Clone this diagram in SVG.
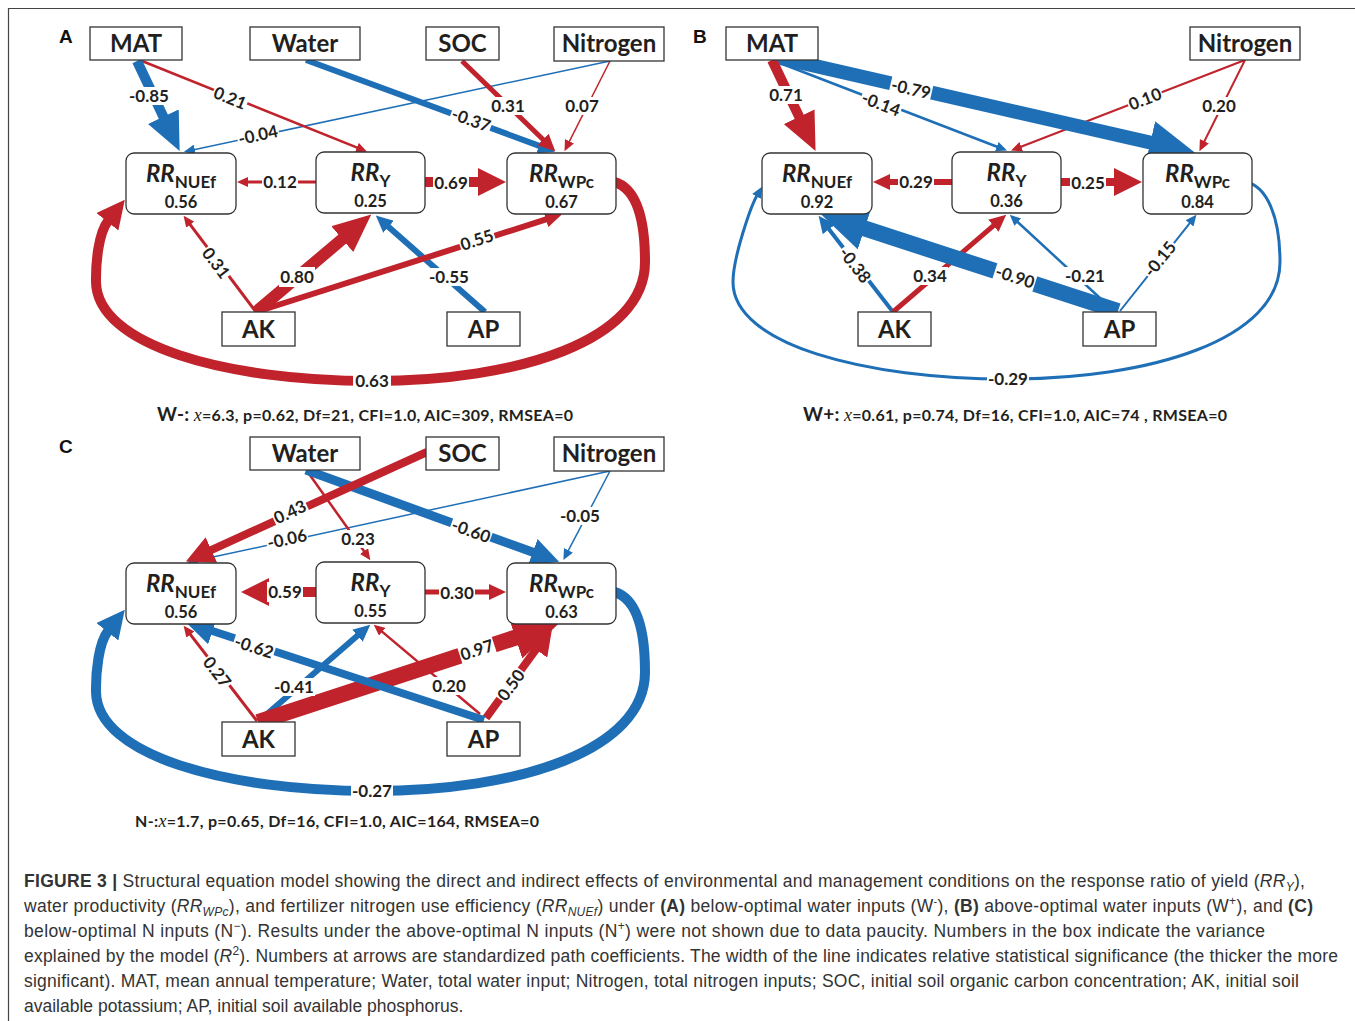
<svg xmlns="http://www.w3.org/2000/svg" width="1355" height="1021" viewBox="0 0 1355 1021">
<style>
.box{fill:#fff;stroke:#333;stroke-width:1.3}
.nt{font-family:Lato,"Liberation Sans",sans-serif;font-weight:700;font-size:24px;fill:#231f20;text-anchor:middle}
.rt{font-family:Lato,"Liberation Sans",sans-serif;font-weight:700;fill:#231f20;text-anchor:middle}
.rr{font-size:24px;font-style:italic}
.sub{font-size:17px;font-style:normal}
.val{font-family:Lato,"Liberation Sans",sans-serif;font-weight:700;font-size:16.5px;fill:#231f20;text-anchor:middle}
.r{stroke:#c0232c;fill:none}
.b{stroke:#1f6fb7;fill:none}
.lb{fill:#fff}
.el{font-family:Lato,"Liberation Sans",sans-serif;font-weight:700;font-size:17px;fill:#231f20;text-anchor:middle}
.pl{font-family:"Liberation Sans",Arial,sans-serif;font-weight:700;font-size:19px;fill:#111}
.fit{font-family:Lato,"Liberation Sans",sans-serif;font-weight:700;font-size:16px;fill:#231f20}
.chi{font-family:"Liberation Serif",serif;font-style:italic;font-weight:400;font-size:18px}
.cap{font-family:"Liberation Sans",Arial,sans-serif;font-size:17.5px;fill:#333}
.frame{stroke:#444;stroke-width:1.2;fill:none}
</style>
<defs>
<marker id="r-s" viewBox="0 0 11 10" refX="1" refY="5" markerWidth="11" markerHeight="10" markerUnits="userSpaceOnUse" orient="auto"><path d="M0,0L11,5L0,10z" fill="#c0232c"/></marker>
<marker id="r-m" viewBox="0 0 17 16" refX="1" refY="8" markerWidth="17" markerHeight="16" markerUnits="userSpaceOnUse" orient="auto"><path d="M0,0L17,8L0,16z" fill="#c0232c"/></marker>
<marker id="r-l" viewBox="0 0 28 28" refX="1" refY="14" markerWidth="28" markerHeight="28" markerUnits="userSpaceOnUse" orient="auto"><path d="M0,0L28,14L0,28z" fill="#c0232c"/></marker>
<marker id="r-xl" viewBox="0 0 38 34" refX="1" refY="17" markerWidth="38" markerHeight="34" markerUnits="userSpaceOnUse" orient="auto"><path d="M0,0L38,17L0,34z" fill="#c0232c"/></marker>
<marker id="r-xxl" viewBox="0 0 46 44" refX="1" refY="22" markerWidth="46" markerHeight="44" markerUnits="userSpaceOnUse" orient="auto"><path d="M0,0L46,22L0,44z" fill="#c0232c"/></marker>
<marker id="b-s" viewBox="0 0 11 10" refX="1" refY="5" markerWidth="11" markerHeight="10" markerUnits="userSpaceOnUse" orient="auto"><path d="M0,0L11,5L0,10z" fill="#1f6fb7"/></marker>
<marker id="b-m" viewBox="0 0 17 16" refX="1" refY="8" markerWidth="17" markerHeight="16" markerUnits="userSpaceOnUse" orient="auto"><path d="M0,0L17,8L0,16z" fill="#1f6fb7"/></marker>
<marker id="b-l" viewBox="0 0 28 28" refX="1" refY="14" markerWidth="28" markerHeight="28" markerUnits="userSpaceOnUse" orient="auto"><path d="M0,0L28,14L0,28z" fill="#1f6fb7"/></marker>
<marker id="b-xl" viewBox="0 0 38 34" refX="1" refY="17" markerWidth="38" markerHeight="34" markerUnits="userSpaceOnUse" orient="auto"><path d="M0,0L38,17L0,34z" fill="#1f6fb7"/></marker>
<marker id="b-xxl" viewBox="0 0 46 44" refX="1" refY="22" markerWidth="46" markerHeight="44" markerUnits="userSpaceOnUse" orient="auto"><path d="M0,0L46,22L0,44z" fill="#1f6fb7"/></marker>
</defs>

<rect width="1355" height="1021" fill="#fff"/>
<path class="frame" d="M8.5,1021V8.5H1355"/>

<text class="pl" x="59" y="43">A</text>
<text class="pl" x="693" y="43">B</text>
<text class="pl" x="59" y="453">C</text>

<g id="connectors">
<!-- Panel A -->
<path class="r" stroke-width="1.5" d="M610,61L569,142.2" marker-end="url(#r-s)"/>
<path class="b" stroke-width="1.5" d="M610,61L193.8,149.7" marker-end="url(#b-s)"/>
<path class="r" stroke-width="2.5" d="M142,61L357.8,147.9" marker-end="url(#r-s)"/>
<path class="b" stroke-width="6" d="M306,60L540,146.1" marker-end="url(#b-m)"/>
<path class="r" stroke-width="5" d="M462,61L543.8,140.2" marker-end="url(#r-m)"/>
<path class="b" stroke-width="10" d="M137,61L163.8,117.6" marker-end="url(#b-xl)"/>
<path class="r" stroke-width="3" d="M316,182L247,182" marker-end="url(#r-s)"/>
<path class="r" stroke-width="10" d="M425,182L479,182" marker-end="url(#r-l)"/>
<path class="r" stroke-width="3" d="M256,312L189.6,223.8" marker-end="url(#r-s)"/>
<path class="b" stroke-width="6" d="M485,312L387.8,226.2" marker-end="url(#b-m)"/>
<path class="r" stroke-width="6" d="M256,312L546.8,219.2" marker-end="url(#r-m)"/>
<path class="r" stroke-width="12" d="M256,312L343,238.5" marker-end="url(#r-xl)"/>
<path class="r" stroke-width="10" d="M610,181C637,185 645,220 645,262C645,340 520,381 372,381C225,381 97,345 96,282C95.7,262 98.7,232.7 108,221" marker-end="url(#r-l)"/>

<!-- Panel B -->
<path class="r" stroke-width="2" d="M1245,60L1020.3,147" marker-end="url(#r-s)"/>
<path class="r" stroke-width="2" d="M1245,60L1203.9,142.2" marker-end="url(#r-s)"/>
<path class="b" stroke-width="2.5" d="M772,60L997.7,147" marker-end="url(#b-s)"/>
<path class="b" stroke-width="14" d="M776,57L1151.2,142.8" marker-end="url(#b-xxl)"/>
<path class="r" stroke-width="10" d="M772,60L799.6,117.7" marker-end="url(#r-xl)"/>
<path class="r" stroke-width="6" d="M952,182L889,182" marker-end="url(#r-m)"/>
<path class="r" stroke-width="8" d="M1061,182L1115,182" marker-end="url(#r-l)"/>
<path class="b" stroke-width="4" d="M893,312L828.4,228.5" marker-end="url(#b-m)"/>
<path class="r" stroke-width="5" d="M893,312L994.1,225.1" marker-end="url(#r-m)"/>
<path class="b" stroke-width="2.5" d="M1114,311L1017.1,221.5" marker-end="url(#b-s)"/>
<path class="b" stroke-width="2" d="M1120,311L1190.2,222.6" marker-end="url(#b-s)"/>
<path class="b" stroke-width="16" d="M1118,311L863.7,228.2" marker-end="url(#b-xxl)"/>
<path class="b" stroke-width="3" d="M1246,182C1266,186 1280,215 1280,262C1280,340 1150,379 1008,379C866,379 733,345 733,282C733,257 751,206 757,195.5" marker-end="url(#b-s)"/>

<!-- Panel C -->
<path class="b" stroke-width="1.5" d="M610,471L196.7,560.6" marker-end="url(#b-s)"/>
<path class="b" stroke-width="1.5" d="M610,471L568,551.2" marker-end="url(#b-s)"/>
<path class="r" stroke-width="2.5" d="M307,471L364.6,552" marker-end="url(#r-s)"/>
<path class="b" stroke-width="9" d="M306,470L533.7,552.5" marker-end="url(#b-l)"/>
<path class="r" stroke-width="8" d="M427,452L210.5,550.3" marker-end="url(#r-l)"/>
<path class="r" stroke-width="10" d="M316,592L268,592" marker-end="url(#r-l)"/>
<path class="r" stroke-width="5" d="M425,592L490,592" marker-end="url(#r-m)"/>
<path class="r" stroke-width="3" d="M257,721L189.7,633.7" marker-end="url(#r-s)"/>
<path class="r" stroke-width="2.5" d="M480,714L381.4,631.1" marker-end="url(#r-s)"/>
<path class="b" stroke-width="6" d="M259,721L358.2,635.1" marker-end="url(#b-m)"/>
<path class="r" stroke-width="16" d="M258,722L516.3,637.3" marker-end="url(#r-xxl)"/>
<path class="r" stroke-width="8" d="M486,718L536.5,648.6" marker-end="url(#r-l)"/>
<path class="b" stroke-width="8" d="M484,720L211.6,630.7" marker-end="url(#b-l)"/>
<path class="b" stroke-width="10" d="M610,591C637,595 645,630 645,672C645,750 520,791 372,791C225,791 97,755 96,692C95.7,672 98.7,642.7 108,631" marker-end="url(#b-l)"/>

<!-- Labels A -->
<g transform="translate(149,96)"><rect class="lb" x="-21" y="-9" width="42" height="18"/><text class="el" y="6">-0.85</text></g>
<g transform="translate(230,98) rotate(22)"><rect class="lb" x="-18" y="-9" width="36" height="18"/><text class="el" y="6">0.21</text></g>
<g transform="translate(471,120) rotate(20)"><rect class="lb" x="-21" y="-9" width="42" height="18"/><text class="el" y="6">-0.37</text></g>
<g transform="translate(508,106)"><rect class="lb" x="-18" y="-9" width="36" height="18"/><text class="el" y="6">0.31</text></g>
<g transform="translate(582,106)"><rect class="lb" x="-18" y="-9" width="36" height="18"/><text class="el" y="6">0.07</text></g>
<g transform="translate(258,135) rotate(-12)"><rect class="lb" x="-21" y="-9" width="42" height="18"/><text class="el" y="6">-0.04</text></g>
<g transform="translate(280,182)"><rect class="lb" x="-18" y="-9" width="36" height="18"/><text class="el" y="6">0.12</text></g>
<g transform="translate(451,183)"><rect class="lb" x="-18" y="-10" width="36" height="20"/><text class="el" y="6">0.69</text></g>
<g transform="translate(216,263) rotate(53)"><rect class="lb" x="-18" y="-9" width="36" height="18"/><text class="el" y="6">0.31</text></g>
<g transform="translate(297,277)"><rect class="lb" x="-18" y="-10" width="36" height="20"/><text class="el" y="6">0.80</text></g>
<g transform="translate(477,240) rotate(-18)"><rect class="lb" x="-18" y="-9" width="36" height="18"/><text class="el" y="6">0.55</text></g>
<g transform="translate(449,277)"><rect class="lb" x="-21" y="-9" width="42" height="18"/><text class="el" y="6">-0.55</text></g>
<g transform="translate(372,381)"><rect class="lb" x="-19" y="-10" width="38" height="20"/><text class="el" y="6">0.63</text></g>

<!-- Labels B -->
<g transform="translate(786,95)"><rect class="lb" x="-18" y="-9" width="36" height="18"/><text class="el" y="6">0.71</text></g>
<g transform="translate(881,104) rotate(21)"><rect class="lb" x="-21" y="-9" width="42" height="18"/><text class="el" y="6">-0.14</text></g>
<g transform="translate(911,89) rotate(13)"><rect class="lb" x="-21" y="-11" width="42" height="22"/><text class="el" y="6">-0.79</text></g>
<g transform="translate(1145,99) rotate(-21)"><rect class="lb" x="-18" y="-9" width="36" height="18"/><text class="el" y="6">0.10</text></g>
<g transform="translate(1219,106)"><rect class="lb" x="-18" y="-9" width="36" height="18"/><text class="el" y="6">0.20</text></g>
<g transform="translate(916,182)"><rect class="lb" x="-18" y="-9" width="36" height="18"/><text class="el" y="6">0.29</text></g>
<g transform="translate(1088,183)"><rect class="lb" x="-18" y="-9" width="36" height="18"/><text class="el" y="6">0.25</text></g>
<g transform="translate(855,265) rotate(52)"><rect class="lb" x="-21" y="-9" width="42" height="18"/><text class="el" y="6">-0.38</text></g>
<g transform="translate(930,276)"><rect class="lb" x="-18" y="-9" width="36" height="18"/><text class="el" y="6">0.34</text></g>
<g transform="translate(1015,277) rotate(18)"><rect class="lb" x="-21" y="-12" width="42" height="24"/><text class="el" y="6">-0.90</text></g>
<g transform="translate(1085,276)"><rect class="lb" x="-21" y="-9" width="42" height="18"/><text class="el" y="6">-0.21</text></g>
<g transform="translate(1160,259) rotate(-51)"><rect class="lb" x="-21" y="-9" width="42" height="18"/><text class="el" y="6">-0.15</text></g>
<g transform="translate(1008,379)"><rect class="lb" x="-21" y="-9" width="42" height="18"/><text class="el" y="6">-0.29</text></g>

<!-- Labels C -->
<g transform="translate(290,512) rotate(-25)"><rect class="lb" x="-18" y="-10" width="36" height="20"/><text class="el" y="6">0.43</text></g>
<g transform="translate(358,539)"><rect class="lb" x="-18" y="-9" width="36" height="18"/><text class="el" y="6">0.23</text></g>
<g transform="translate(471,531) rotate(20)"><rect class="lb" x="-21" y="-10" width="42" height="20"/><text class="el" y="6">-0.60</text></g>
<g transform="translate(287,539) rotate(-12)"><rect class="lb" x="-21" y="-9" width="42" height="18"/><text class="el" y="6">-0.06</text></g>
<g transform="translate(580,516)"><rect class="lb" x="-21" y="-9" width="42" height="18"/><text class="el" y="6">-0.05</text></g>
<g transform="translate(285,592)"><rect class="lb" x="-18" y="-10" width="36" height="20"/><text class="el" y="6">0.59</text></g>
<g transform="translate(457,593)"><rect class="lb" x="-18" y="-9" width="36" height="18"/><text class="el" y="6">0.30</text></g>
<g transform="translate(217,672) rotate(52)"><rect class="lb" x="-18" y="-9" width="36" height="18"/><text class="el" y="6">0.27</text></g>
<g transform="translate(294,687)"><rect class="lb" x="-21" y="-9" width="42" height="18"/><text class="el" y="6">-0.41</text></g>
<g transform="translate(477,650) rotate(-18)"><rect class="lb" x="-18" y="-12" width="36" height="24"/><text class="el" y="6">0.97</text></g>
<g transform="translate(254,647) rotate(18)"><rect class="lb" x="-21" y="-10" width="42" height="20"/><text class="el" y="6">-0.62</text></g>
<g transform="translate(449,686)"><rect class="lb" x="-18" y="-9" width="36" height="18"/><text class="el" y="6">0.20</text></g>
<g transform="translate(511,685) rotate(-54)"><rect class="lb" x="-18" y="-10" width="36" height="20"/><text class="el" y="6">0.50</text></g>
<g transform="translate(372,791)"><rect class="lb" x="-21" y="-10" width="42" height="20"/><text class="el" y="6">-0.27</text></g>
</g>

<!-- Panel A nodes -->
<g id="a-mat"><rect class="box" x="90" y="27" width="92" height="33"/><text class="nt" x="136" y="52">MAT</text></g>
<g id="a-water"><rect class="box" x="250" y="27" width="110" height="33"/><text class="nt" x="305" y="52">Water</text></g>
<g id="a-soc"><rect class="box" x="426" y="27" width="73" height="33"/><text class="nt" x="462.5" y="52">SOC</text></g>
<g id="a-nitrogen"><rect class="box" x="554" y="27" width="110" height="34"/><text class="nt" x="609" y="52">Nitrogen</text></g>
<g id="a-rrnuef"><rect class="box" x="126" y="153" width="110" height="61" rx="8"/><text class="rt" x="181" y="182"><tspan class="rr">RR</tspan><tspan class="sub" dy="6">NUEf</tspan></text><text class="val" x="181" y="208">0.56</text></g>
<g id="a-rry"><rect class="box" x="316" y="152" width="109" height="61" rx="8"/><text class="rt" x="370.5" y="181"><tspan class="rr">RR</tspan><tspan class="sub" dy="6">Y</tspan></text><text class="val" x="370.5" y="207">0.25</text></g>
<g id="a-rrwpc"><rect class="box" x="507" y="153" width="109" height="61" rx="8"/><text class="rt" x="561.5" y="182"><tspan class="rr">RR</tspan><tspan class="sub" dy="6">WPc</tspan></text><text class="val" x="561.5" y="208">0.67</text></g>
<g id="a-ak"><rect class="box" x="222" y="312" width="73" height="34"/><text class="nt" x="258.5" y="338">AK</text></g>
<g id="a-ap"><rect class="box" x="447" y="312" width="73" height="34"/><text class="nt" x="483.5" y="338">AP</text></g>

<!-- Panel B nodes -->
<g id="b-mat"><rect class="box" x="726" y="27" width="92" height="33"/><text class="nt" x="772" y="52">MAT</text></g>
<g id="b-nitrogen"><rect class="box" x="1190" y="27" width="110" height="33"/><text class="nt" x="1245" y="52">Nitrogen</text></g>
<g id="b-rrnuef"><rect class="box" x="762" y="153" width="110" height="61" rx="8"/><text class="rt" x="817" y="182"><tspan class="rr">RR</tspan><tspan class="sub" dy="6">NUEf</tspan></text><text class="val" x="817" y="208">0.92</text></g>
<g id="b-rry"><rect class="box" x="952" y="152" width="109" height="61" rx="8"/><text class="rt" x="1006.5" y="181"><tspan class="rr">RR</tspan><tspan class="sub" dy="6">Y</tspan></text><text class="val" x="1006.5" y="207">0.36</text></g>
<g id="b-rrwpc"><rect class="box" x="1143" y="153" width="109" height="61" rx="8"/><text class="rt" x="1197.5" y="182"><tspan class="rr">RR</tspan><tspan class="sub" dy="6">WPc</tspan></text><text class="val" x="1197.5" y="208">0.84</text></g>
<g id="b-ak"><rect class="box" x="858" y="312" width="73" height="34"/><text class="nt" x="894.5" y="338">AK</text></g>
<g id="b-ap"><rect class="box" x="1083" y="312" width="73" height="34"/><text class="nt" x="1119.5" y="338">AP</text></g>

<!-- Panel C nodes -->
<g id="c-water"><rect class="box" x="250" y="437" width="110" height="33"/><text class="nt" x="305" y="462">Water</text></g>
<g id="c-soc"><rect class="box" x="426" y="437" width="73" height="33"/><text class="nt" x="462.5" y="462">SOC</text></g>
<g id="c-nitrogen"><rect class="box" x="554" y="437" width="110" height="34"/><text class="nt" x="609" y="462">Nitrogen</text></g>
<g id="c-rrnuef"><rect class="box" x="126" y="563" width="110" height="61" rx="8"/><text class="rt" x="181" y="592"><tspan class="rr">RR</tspan><tspan class="sub" dy="6">NUEf</tspan></text><text class="val" x="181" y="618">0.56</text></g>
<g id="c-rry"><rect class="box" x="316" y="562" width="109" height="61" rx="8"/><text class="rt" x="370.5" y="591"><tspan class="rr">RR</tspan><tspan class="sub" dy="6">Y</tspan></text><text class="val" x="370.5" y="617">0.55</text></g>
<g id="c-rrwpc"><rect class="box" x="507" y="563" width="109" height="61" rx="8"/><text class="rt" x="561.5" y="592"><tspan class="rr">RR</tspan><tspan class="sub" dy="6">WPc</tspan></text><text class="val" x="561.5" y="618">0.63</text></g>
<g id="c-ak"><rect class="box" x="222" y="722" width="73" height="34"/><text class="nt" x="258.5" y="748">AK</text></g>
<g id="c-ap"><rect class="box" x="447" y="722" width="73" height="34"/><text class="nt" x="483.5" y="748">AP</text></g>

<!-- Fit statistics -->
<text class="fit" x="157" y="421" textLength="416" lengthAdjust="spacing"><tspan font-size="19">W-:</tspan> <tspan class="chi">x</tspan>=6.3, p=0.62, Df=21, CFI=1.0,  AIC=309, RMSEA=0</text>
<text class="fit" x="803" y="421" textLength="424" lengthAdjust="spacing"><tspan font-size="19">W+:</tspan> <tspan class="chi">x</tspan>=0.61, p=0.74, Df=16, CFI=1.0,  AIC=74 , RMSEA=0</text>
<text class="fit" x="135" y="827" textLength="404" lengthAdjust="spacing">N-:<tspan class="chi">x</tspan>=1.7, p=0.65, Df=16, CFI=1.0,  AIC=164, RMSEA=0</text>

<!-- Caption -->
<text class="cap" x="24" y="887" textLength="1281" lengthAdjust="spacing"><tspan font-weight="700">FIGURE 3 |</tspan> Structural equation model showing the direct and indirect effects of environmental and management conditions on the response ratio of yield (<tspan font-style="italic">RR</tspan><tspan font-style="italic" font-size="12" dy="4">Y</tspan><tspan dy="-4">),</tspan></text>
<text class="cap" x="24" y="912" textLength="1289" lengthAdjust="spacing">water productivity (<tspan font-style="italic">RR</tspan><tspan font-style="italic" font-size="12" dy="4">WPc</tspan><tspan dy="-4">), and fertilizer nitrogen use efficiency (</tspan><tspan font-style="italic">RR</tspan><tspan font-style="italic" font-size="12" dy="4">NUEf</tspan><tspan dy="-4">) under </tspan><tspan font-weight="700">(A)</tspan> below-optimal water inputs (W<tspan font-size="11" dy="-7">-</tspan><tspan dy="7">), </tspan><tspan font-weight="700">(B)</tspan> above-optimal water inputs (W<tspan font-size="12" dy="-7">+</tspan><tspan dy="7">), and </tspan><tspan font-weight="700">(C)</tspan></text>
<text class="cap" x="24" y="937" textLength="1241" lengthAdjust="spacing">below-optimal N inputs (N<tspan font-size="12" dy="-7">−</tspan><tspan dy="7">). Results under the above-optimal N inputs (N</tspan><tspan font-size="12" dy="-7">+</tspan><tspan dy="7">) were not shown due to data paucity. Numbers in the box indicate the variance</tspan></text>
<text class="cap" x="24" y="962" textLength="1314" lengthAdjust="spacing">explained by the model (<tspan font-style="italic">R</tspan><tspan font-size="12" dy="-7">2</tspan><tspan dy="7">). Numbers at arrows are standardized path coefficients. The width of the line indicates relative statistical significance (the thicker the more</tspan></text>
<text class="cap" x="24" y="987" textLength="1275" lengthAdjust="spacing">significant). MAT, mean annual temperature; Water, total water input; Nitrogen, total nitrogen inputs; SOC, initial soil organic carbon concentration; AK, initial soil</text>
<text class="cap" x="24" y="1012">available potassium; AP, initial soil available phosphorus.</text>
</svg>
